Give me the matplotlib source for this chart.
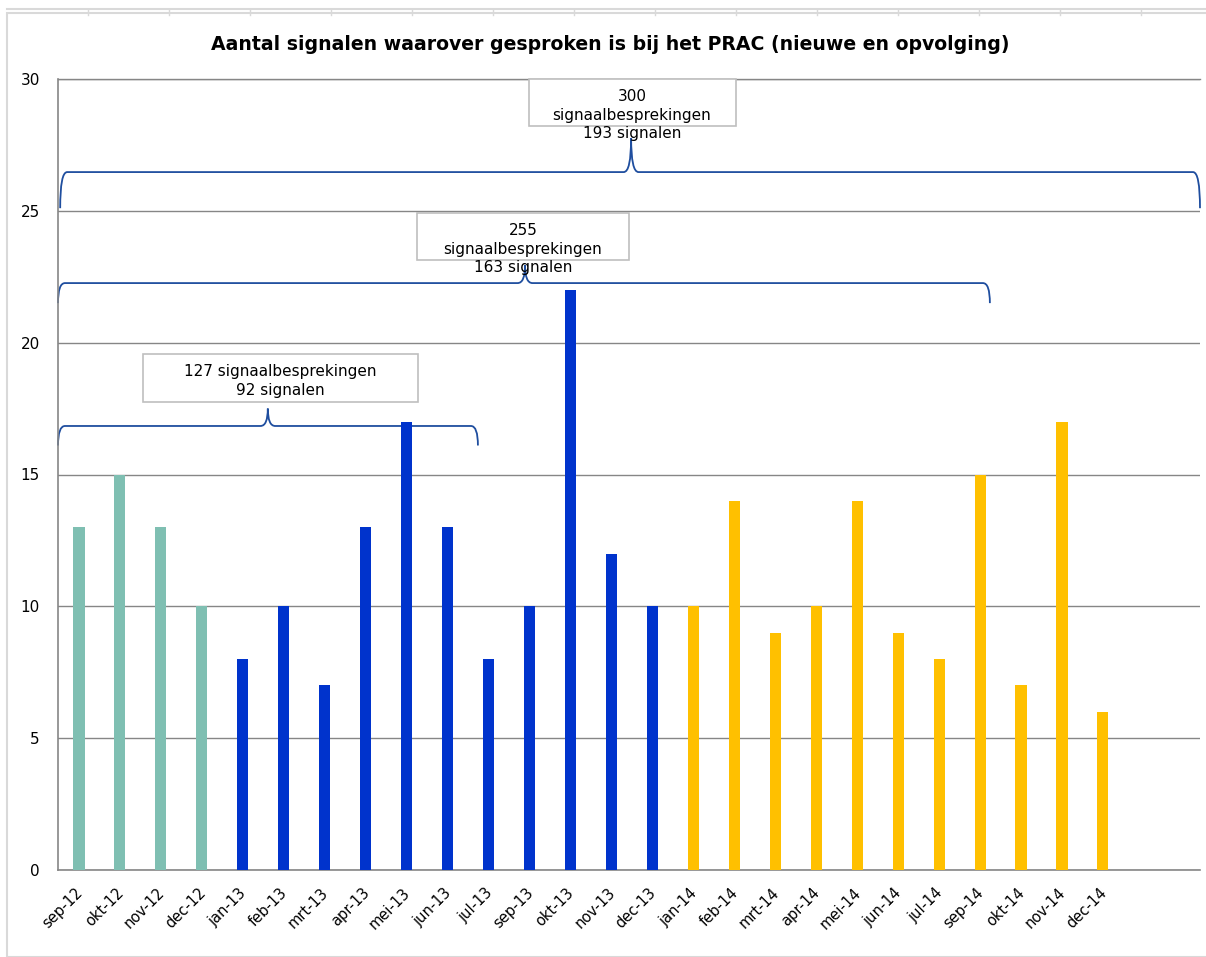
import numpy as np
import matplotlib
matplotlib.use('Agg')
import matplotlib.pyplot as plt
import matplotlib.transforms as mtransforms
from matplotlib.path import Path
from matplotlib.patches import PathPatch, Rectangle
from matplotlib.lines import Line2D

months = ['sep-12', 'okt-12', 'nov-12', 'dec-12',
          'jan-13', 'feb-13', 'mrt-13', 'apr-13', 'mei-13', 'jun-13',
          'jul-13', 'sep-13', 'okt-13', 'nov-13', 'dec-13',
          'jan-14', 'feb-14', 'mrt-14', 'apr-14', 'mei-14', 'jun-14',
          'jul-14', 'sep-14', 'okt-14', 'nov-14', 'dec-14']
signals = [13, 15, 13, 10,
           8, 10, 7, 13, 17, 13, 8, 10, 22, 12, 10,
           10, 14, 9, 10, 14, 9, 8, 15, 7, 17, 6]
groups = ['2012'] * 4 + ['2013'] * 11 + ['2014'] * 11
group_colors = {'2012': '#7FBFB2', '2013': '#0033CC', '2014': '#FFC000'}

summary_labels = ['127 signaalbesprekingen\n92 signalen',
                  '255\nsignaalbesprekingen\n163 signalen',
                  '300\nsignaalbesprekingen\n193 signalen']

BRACE_COLOR = '#1F4E9F'
GRID = '#868686'

fig = plt.figure(figsize=(12.06, 9.57), dpi=100)
ax = fig.add_axes([58 / 1206, 1 - 870 / 957, 1142 / 1206, 791 / 957])

x = np.arange(len(months))
ax.bar(x, signals, width=0.27,
       color=[group_colors[g] for g in groups], zorder=3)

ax.set_xlim(-0.513, 27.37)
ax.set_ylim(0, 30)
ax.set_yticks(range(0, 31, 5))
ax.set_xticks(x)
ax.set_xticklabels(months, rotation=45, ha='right', va='top',
                   rotation_mode='anchor')
ax.tick_params(axis='y', length=0, pad=13, labelsize=11)
ax.tick_params(axis='x', length=0, pad=11, labelsize=10.5)
shift = mtransforms.ScaledTranslation(-4 / 100, 0, fig.dpi_scale_trans)
for lbl in ax.get_xticklabels():
    lbl.set_transform(lbl.get_transform() + shift)
ax.grid(axis='y', color=GRID, lw=1, zorder=0)
for s in ['top', 'right']:
    ax.spines[s].set_visible(False)
for s in ['left', 'bottom']:
    ax.spines[s].set_color(GRID)
    ax.spines[s].set_linewidth(1.2)
ax.axhline(30, color=GRID, lw=1, clip_on=False, zorder=0)

ax.set_title('Aantal signalen waarover gesproken is bij het PRAC (nieuwe en opvolging)',
             fontsize=13.6, fontweight='bold', pad=21, x=0.484)


def brace(x0, x1, xm, y_end, y_line, y_tip):
    dx, dc = 0.17, 0.18
    verts = [(x0, y_end), (x0, y_line), (x0 + dx, y_line),
             (xm - dc, y_line),
             (xm, y_line), (xm, y_tip),
             (xm, y_line), (xm + dc, y_line),
             (x1 - dx, y_line),
             (x1, y_line), (x1, y_end)]
    codes = [Path.MOVETO, Path.CURVE3, Path.CURVE3, Path.LINETO,
             Path.CURVE3, Path.CURVE3, Path.CURVE3, Path.CURVE3,
             Path.LINETO, Path.CURVE3, Path.CURVE3]
    ax.add_patch(PathPatch(Path(verts, codes), fill=False,
                           edgecolor=BRACE_COLOR, lw=1.3, zorder=2,
                           clip_on=False))


def label_box(x0, x1, y0, y1, xt, yt, text):
    ax.add_patch(Rectangle((x0, y0), x1 - x0, y1 - y0, facecolor='white',
                           edgecolor='#BFBFBF', lw=1.2, zorder=4,
                           clip_on=False))
    ax.text(xt, yt, text, ha='center', va='center', fontsize=11,
            linespacing=1.3, zorder=5)


brace(-0.513, 9.74, 4.61, 16.1, 16.84, 17.5)
brace(-0.513, 22.24, 10.89, 21.5, 22.26, 22.94)
brace(-0.46, 27.37, 13.48, 25.1, 26.47, 27.76)

label_box(1.56, 8.28, 17.75, 19.57, 4.91, 18.54, summary_labels[0])
label_box(8.25, 13.43, 23.13, 24.91, 10.84, 23.55, summary_labels[1])
label_box(10.99, 16.04, 28.21, 30.0, 13.5, 28.63, summary_labels[2])

# outer frame like the spreadsheet chart border
fig.add_artist(Rectangle((7 / 1206, 0), 1, 1 - 13 / 957,
                         transform=fig.transFigure, fill=False,
                         edgecolor='#D9D9D9', lw=1.5))
fig.add_artist(Line2D([7 / 1206, 1], [1 - 9 / 957] * 2,
                      transform=fig.transFigure, color='#D9D9D9', lw=1.5))
for px in range(88, 1206, 81):
    fig.add_artist(Line2D([px / 1206] * 2, [1 - 9 / 957, 1 - 15 / 957],
                          transform=fig.transFigure, color='#D9D9D9', lw=1))

fig.savefig('out.png', dpi=100)
